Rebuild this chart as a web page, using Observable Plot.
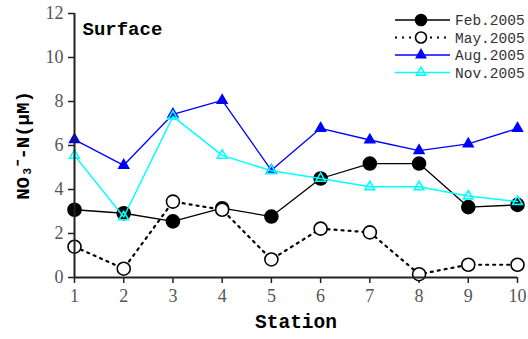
<!DOCTYPE html>
<html><head><meta charset="utf-8">
<script src="https://cdn.jsdelivr.net/npm/d3@7"></script>
<script src="https://cdn.jsdelivr.net/npm/@observablehq/plot@0.6"></script>
<style>body{margin:0;background:#fff}</style>
</head><body><div id="chart"></div>
<script>
const stations = [1,2,3,4,5,6,7,8,9,10];
const feb2005 = [3.08,2.92,2.55,3.15,2.77,4.5,5.18,5.18,3.2,3.3];
const may2005 = [1.4,0.4,3.45,3.08,0.82,2.22,2.05,0.15,0.58,0.58];
const aug2005 = [6.27,5.1,7.42,8.05,4.87,6.78,6.25,5.77,6.07,6.78];
const nov2005 = [5.55,2.75,7.32,5.55,4.85,4.5,4.12,4.12,3.7,3.45];
const seriesNames = ["Feb.2005","May.2005","Aug.2005","Nov.2005"];
const yTicks = [0,2,4,6,8,10,12];

const styles = {
  "Feb.2005": {stroke:"#000", dash:null, width:1.3, symbol:"circle", fill:"#000", mstroke:"#000", r:6.5},
  "May.2005": {stroke:"#000", dash:"2,5", width:2.2, symbol:"circle", fill:"#fff", mstroke:"#000", r:6.5},
  "Aug.2005": {stroke:"#0000ff", dash:null, width:1.3, symbol:"triangle", fill:"#0000ff", mstroke:"#0000ff", r:3.6},
  "Nov.2005": {stroke:"#00ffff", dash:null, width:1.5, symbol:"triangle", fill:"none", mstroke:"#00ffff", r:3.6}
};
const values = [feb2005, may2005, aug2005, nov2005];
const table = s => stations.map((st,i)=>({station:st, value:values[seriesNames.indexOf(s)][i], series:s}));

const marks = [];
for (const s of seriesNames) {
  const st = styles[s];
  marks.push(Plot.line(table(s), {x:"station", y:"value", stroke:st.stroke, strokeWidth:st.width, strokeDasharray:st.dash}));
  marks.push(Plot.dot(table(s), {x:"station", y:"value", symbol:st.symbol, r:st.r, fill:st.fill, stroke:st.mstroke, strokeWidth:1.6}));
}

const chart = Plot.plot({
  width:528, height:339,
  marginLeft:74, marginRight:11, marginTop:13, marginBottom:62,
  style:{fontFamily:"Liberation Serif", fontSize:"18px", background:"#fff"},
  x:{domain:[1,10]},
  y:{domain:[0,12]},
  marks:[
    Plot.axisX({ticks:stations, tickSize:6, tickPadding:6, tickFormat:d=>String(d), label:null, fontSize:18}),
    Plot.axisY({ticks:yTicks, tickSize:6, tickPadding:5, label:null, fontSize:18}),
    ...marks,
    Plot.ruleY([0], {stroke:"#222", strokeWidth:2}),
    Plot.ruleX([1], {stroke:"#222", strokeWidth:2}),
    Plot.text(["Surface"], {frameAnchor:"top-left", dx:8, dy:8, textAnchor:"start", fontFamily:"Liberation Mono", fontWeight:"bold", fontSize:19, fill:"#000"}),
    Plot.text(["Station"], {frameAnchor:"bottom", dy:50, fontFamily:"Liberation Mono", fontWeight:"bold", fontSize:19.5, fill:"#000"}),
    Plot.text(["NO₃⁻-N(μM)"], {frameAnchor:"left", textAnchor:"middle", dx:-52, rotate:-90, fontFamily:"Liberation Mono", fontWeight:"bold", fontSize:19, fill:"#000"})
  ]
});
document.getElementById("chart").appendChild(chart);
const svg = d3.select(chart);
svg.selectAll('g[aria-label="x-axis tick label"], g[aria-label="y-axis tick label"]').attr("font-size",18).attr("fill","#555");
svg.selectAll('g[aria-label="x-axis tick label"] text, g[aria-label="y-axis tick label"] text').attr("fill","#555");
svg.selectAll('g[aria-label="x-axis tick"], g[aria-label="y-axis tick"]').attr("stroke","#222").attr("stroke-width",1.5);

// legend
const lg = svg.append("g").attr("font-family","Liberation Mono").attr("font-size",14.5).attr("text-anchor","start");
seriesNames.forEach((s,i)=>{
  const st = styles[s];
  const y = 20 + i*17.5;
  lg.append("line").attr("x1",395).attr("x2",450).attr("y1",y).attr("y2",y)
    .attr("stroke",st.stroke).attr("stroke-width",st.width).attr("stroke-dasharray",st.dash);
  const sym = st.symbol==="circle" ? d3.symbolCircle : d3.symbolTriangle;
  const rr = st.symbol==="circle" ? 5.5 : 3.4;
  lg.append("path").attr("d", d3.symbol(sym, Math.PI*rr*rr)()).attr("transform",`translate(421,${y})`)
    .attr("fill",st.fill).attr("stroke",st.mstroke).attr("stroke-width",1.6);
  lg.append("text").attr("x",455).attr("y",y).attr("dy","0.35em").attr("fill","#333").text(s);
});
</script></body></html>
